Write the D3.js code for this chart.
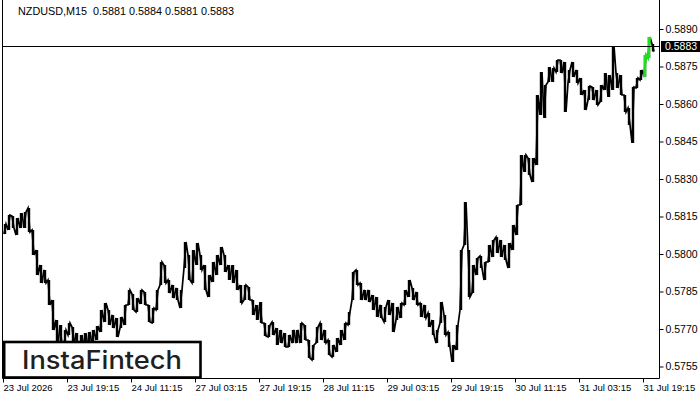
<!DOCTYPE html>
<html>
<head>
<meta charset="utf-8">
<script src="https://cdn.jsdelivr.net/npm/d3@7"></script>
<style>
  html, body { margin: 0; padding: 0; background: #fff; }
  svg { display: block; }
  text { white-space: pre; }
</style>
</head>
<body>
<svg id="chart" width="700" height="400"></svg>
<script>
// ---- data (NZDUSD M15, aggregated per hour: 4 bars per entry) ----
const symbol = "NZDUSD,M15";
const lastOHLC = [0.5881, 0.5884, 0.5881, 0.5883];
const currentPrice = 0.5883;
const barsPerEntry = 4;
const greenFrom = 160; // highlighted (green) entries
const greenTo = 161;

const highs = [
0.58120,0.58156,0.58152,0.58144,0.58164,0.58168,0.58184,0.58096,0.58016,0.57956,
0.57936,0.57896,0.57816,0.57736,0.57716,0.57696,0.57724,0.57708,0.57684,0.57676,
0.57684,0.57688,0.57696,0.57712,0.57776,0.57804,0.57776,0.57756,0.57744,0.57748,
0.57796,0.57856,0.57840,0.57824,0.57856,0.57848,0.57796,0.57784,0.57856,0.57968,
0.57956,0.57896,0.57876,0.57864,0.57856,0.58048,0.57996,0.58016,0.58044,0.57996,
0.57956,0.57916,0.57968,0.57996,0.58028,0.57996,0.57956,0.57956,0.57936,0.57876,
0.57876,0.57868,0.57816,0.57796,0.57808,0.57724,0.57716,0.57728,0.57704,0.57696,
0.57684,0.57676,0.57696,0.57696,0.57724,0.57716,0.57656,0.57636,0.57708,0.57724,
0.57696,0.57656,0.57636,0.57664,0.57696,0.57724,0.57768,0.57928,0.57936,0.57884,
0.57856,0.57856,0.57836,0.57828,0.57796,0.57788,0.57816,0.57804,0.57788,0.57804,
0.57856,0.57896,0.57864,0.57848,0.57804,0.57796,0.57764,0.57736,0.57696,0.57808,
0.57756,0.57688,0.57636,0.57716,0.58016,0.58208,0.58016,0.57956,0.57984,0.57992,
0.57968,0.58036,0.58056,0.58068,0.58056,0.58036,0.58044,0.58116,0.58196,0.58396,
0.58396,0.58384,0.58384,0.58636,0.58728,0.58676,0.58748,0.58744,0.58776,0.58776,
0.58768,0.58736,0.58768,0.58736,0.58704,0.58656,0.58672,0.58668,0.58656,0.58676,
0.58724,0.58716,0.58832,0.58724,0.58716,0.58636,0.58584,0.58668,0.58704,0.58736,
0.58796,0.58868,0.58840
];
const lows = [
0.58080,0.58096,0.58104,0.58076,0.58104,0.58104,0.58088,0.57996,0.57916,0.57884,
0.57884,0.57796,0.57696,0.57636,0.57636,0.57636,0.57676,0.57636,0.57616,0.57616,
0.57624,0.57624,0.57636,0.57656,0.57688,0.57728,0.57716,0.57704,0.57668,0.57704,
0.57716,0.57796,0.57776,0.57768,0.57800,0.57796,0.57728,0.57724,0.57776,0.57876,
0.57884,0.57844,0.57824,0.57816,0.57784,0.57944,0.57896,0.57884,0.57956,0.57936,
0.57856,0.57828,0.57888,0.57916,0.57956,0.57928,0.57896,0.57884,0.57856,0.57804,
0.57816,0.57816,0.57756,0.57736,0.57724,0.57672,0.57668,0.57676,0.57636,0.57644,
0.57628,0.57628,0.57644,0.57644,0.57644,0.57656,0.57584,0.57576,0.57644,0.57656,
0.57644,0.57596,0.57588,0.57608,0.57636,0.57656,0.57716,0.57816,0.57876,0.57816,
0.57816,0.57808,0.57776,0.57748,0.57744,0.57728,0.57756,0.57688,0.57736,0.57744,
0.57796,0.57828,0.57816,0.57796,0.57748,0.57744,0.57708,0.57676,0.57644,0.57724,
0.57676,0.57628,0.57568,0.57616,0.57776,0.58036,0.57828,0.57844,0.57916,0.57944,
0.57896,0.57968,0.57988,0.58004,0.57988,0.57976,0.57944,0.58016,0.58076,0.58196,
0.58328,0.58316,0.58288,0.58356,0.58556,0.58544,0.58688,0.58688,0.58728,0.58724,
0.58568,0.58684,0.58708,0.58684,0.58636,0.58576,0.58616,0.58616,0.58596,0.58608,
0.58656,0.58628,0.58656,0.58664,0.58636,0.58568,0.58516,0.58444,0.58664,0.58696,
0.58708,0.58784,0.58810
];
const yTicks = [0.5890, 0.5875, 0.5860, 0.5845, 0.5830, 0.5815, 0.5800, 0.5785, 0.5770, 0.5755];
const xTickLabels = ["23 Jul 2026","23 Jul 19:15","24 Jul 11:15","27 Jul 03:15","27 Jul 19:15",
  "28 Jul 11:15","29 Jul 03:15","29 Jul 19:15","30 Jul 11:15","31 Jul 03:15","31 Jul 19:15"];
const xTickBarIndex = [0, 64, 128, 192, 256, 320, 384, 448, 512, 576, 640];
const logoText = "InstaFintech";

// ---- drawing ----
const svg = d3.select("#chart");
const plot = { left: 2.5, right: 659.5, bottom: 378.5 };

const x = d3.scaleLinear().domain([0, 652]).range([3, 655]);
const y = d3.scaleLinear().domain([0.5755, 0.5890]).range([366.5, 29]);

svg.append("rect").attr("width", 700).attr("height", 400).attr("fill", "#fff");

const entries = highs.map((h, i) => ({ i, h, l: lows[i], m: (h + lows[i]) / 2 }));
const isGreen = d => d.i >= greenFrom && d.i <= greenTo;

// zig-zag through each entry's high and low, ordered by local direction
const pts = [];
entries.forEach((d, k) => {
  const prev = k > 0 ? entries[k - 1].m : d.m;
  const next = k < entries.length - 1 ? entries[k + 1].m : d.m;
  const rising = (next - prev) > 0;
  const x0 = x(d.i * barsPerEntry);
  const a = rising ? d.l : d.h, b = rising ? d.h : d.l;
  pts.push({ px: x0 + 1, p: a, g: isGreen(d) });
  pts.push({ px: x0 + 3, p: b, g: isGreen(d) });
});

const zig = d3.line().x(d => d.px).y(d => y(d.p));
svg.append("path")
  .datum(pts)
  .attr("d", zig)
  .attr("fill", "none")
  .attr("stroke", "#000")
  .attr("stroke-width", 1.7)
  .attr("stroke-linejoin", "miter");

// hourly range bars
svg.append("g").selectAll("rect")
  .data(entries)
  .join("rect")
  .attr("x", d => x(d.i * barsPerEntry) + 0.8)
  .attr("width", 2.4)
  .attr("y", d => y(d.h))
  .attr("height", d => Math.max(1, y(d.l) - y(d.h)))
  .attr("fill", "#000");

// highlighted green segment
const gPts = pts.filter(d => d.g);
svg.append("path")
  .datum(gPts)
  .attr("d", zig)
  .attr("fill", "none")
  .attr("stroke", "#1ee01e")
  .attr("stroke-width", 2.2);
svg.append("g").selectAll("rect")
  .data(entries.filter(isGreen))
  .join("rect")
  .attr("x", d => x(d.i * barsPerEntry) + 0.8)
  .attr("width", 2.4)
  .attr("y", d => y(d.h))
  .attr("height", d => y(d.l) - y(d.h))
  .attr("fill", "#1ee01e");

// current price horizontal line
const cyPix = Math.round(y(currentPrice)) + 0.5;
svg.append("line")
  .attr("x1", plot.left).attr("x2", plot.right)
  .attr("y1", cyPix).attr("y2", cyPix)
  .attr("stroke", "#000").attr("stroke-width", 1);

// logo box (opaque, over chart)
svg.append("rect")
  .attr("x", 4.2).attr("y", 342).attr("width", 196.3).attr("height", 35.5)
  .attr("fill", "#fff").attr("stroke", "#000").attr("stroke-width", 2.6);
svg.append("text")
  .attr("x", 22).attr("y", 368.5)
  .attr("font-family", "Inter, 'Noto Sans', sans-serif")
  .attr("font-size", 25).attr("font-weight", 500)
  .attr("fill", "#1f1f1f")
  .attr("textLength", 160).attr("lengthAdjust", "spacingAndGlyphs")
  .text(logoText);

// frame
svg.append("line").attr("x1", plot.left).attr("x2", plot.left).attr("y1", 0).attr("y2", plot.bottom)
  .attr("stroke", "#000");
svg.append("line").attr("x1", plot.right).attr("x2", plot.right).attr("y1", 0).attr("y2", plot.bottom)
  .attr("stroke", "#000");
svg.append("line").attr("x1", plot.left).attr("x2", plot.right).attr("y1", plot.bottom).attr("y2", plot.bottom)
  .attr("stroke", "#000");

// y axis
const yAxis = d3.axisRight(y).tickValues(yTicks).tickFormat(d3.format(".4f")).tickSize(4).tickPadding(2);
const gy = svg.append("g").attr("transform", `translate(${plot.right},0)`).call(yAxis);
gy.select(".domain").remove();
gy.selectAll("text")
  .attr("font-family", "'Liberation Sans', Arial, sans-serif")
  .attr("font-size", 10.5).attr("fill", "#000");
gy.selectAll("line").attr("stroke", "#000");

// current price label
const cy = y(currentPrice);
svg.append("rect").attr("x", 661).attr("y", cy - 5.5).attr("width", 39).attr("height", 11).attr("fill", "#000");
svg.append("text").attr("x", 665).attr("y", cy).attr("dy", "0.36em")
  .attr("font-family", "'Liberation Sans', Arial, sans-serif").attr("font-size", 10.5)
  .attr("fill", "#fff").text(d3.format(".4f")(currentPrice));

// x axis
const xAxis = d3.axisBottom(x).tickValues(xTickBarIndex)
  .tickFormat((d, i) => xTickLabels[i]).tickSize(4).tickPadding(2);
const gx = svg.append("g").attr("transform", `translate(0,${plot.bottom})`).call(xAxis);
gx.select(".domain").remove();
gx.selectAll("line").attr("stroke", "#000");
gx.selectAll("text")
  .attr("text-anchor", "start")
  .attr("font-family", "'Liberation Sans', Arial, sans-serif")
  .attr("font-size", 9.5).attr("fill", "#000");

// header
svg.append("text").attr("x", 18).attr("y", 15)
  .attr("font-family", "'Liberation Sans', Arial, sans-serif").attr("font-size", 10.8)
  .attr("fill", "#000")
  .text(symbol + "  " + lastOHLC.map(d3.format(".4f")).join(" "));
</script>
</body>
</html>
